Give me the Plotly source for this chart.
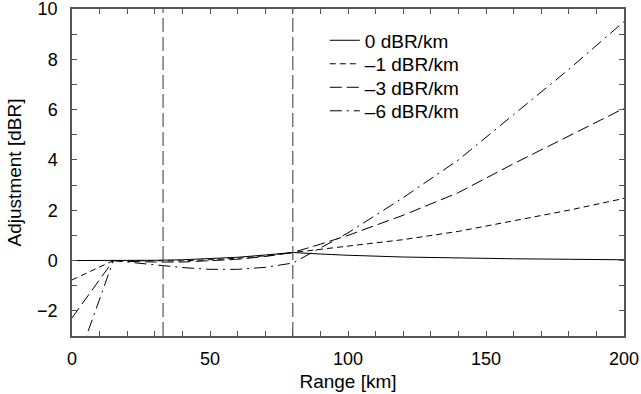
import plotly.graph_objects as go

# Range [km]
range_km = [0, 15, 20, 30, 40, 50, 60, 70, 80, 90, 100, 120, 140, 160, 180, 200]

# Adjustment [dBR] per range gradient
adj_0 = [0.0, 0.0, 0.0, 0.01, 0.03, 0.07, 0.13, 0.22, 0.32, 0.26, 0.21, 0.14, 0.09, 0.07, 0.05, 0.03]
adj_1 = [-0.77, 0.0, -0.01, -0.02, -0.01, 0.03, 0.09, 0.19, 0.32, 0.43, 0.55, 0.83, 1.16, 1.57, 2.0, 2.47]
adj_3 = [-2.28, 0.0, -0.03, -0.06, -0.06, -0.02, 0.05, 0.16, 0.32, 0.65, 1.0, 1.8, 2.7, 3.85, 4.95, 6.05]
adj_6 = [-4.6, 0.0, -0.06, -0.17, -0.28, -0.35, -0.35, -0.27, -0.1, 0.5, 1.1, 2.5, 4.0, 5.8, 7.6, 9.5]

series_names = ["0 dBR/km", "\u20131 dBR/km", "\u20133 dBR/km", "\u20136 dBR/km"]
series_vals = [adj_0, adj_1, adj_3, adj_6]
series_dash = ["solid", "6px,4px", "12px,5px", "12px,5px,2px,5px"]

# vertical reference ranges [km]
vlines_km = [33, 80]

fig = go.Figure()
legend_ids = ["legend", "legend2", "legend3", "legend4"]
for name, vals, dash, lid in zip(series_names, series_vals, series_dash, legend_ids):
    fig.add_trace(go.Scatter(x=range_km, y=vals, mode="lines", name=name, legend=lid,
                             line=dict(color="black", width=1, dash=dash)))

for xv in vlines_km:
    fig.add_shape(type="line", xref="x", yref="paper", x0=xv, x1=xv, y0=0, y1=1,
                  line=dict(color="#555555", width=1.2, dash="14px,5px"))

axis_common = dict(showline=True, linecolor="#555555", linewidth=1.5, mirror="ticks",
                   ticks="inside", ticklen=5, tickcolor="#555555", tickwidth=1,
                   showgrid=False, zeroline=False, automargin=False,
                   ticklabeloverflow="allow", tickfont=dict(size=18))

fig.update_xaxes(range=[0, 200], dtick=50, tick0=0, ticklabelstandoff=6,
                 minor=dict(dtick=10, ticks="inside", ticklen=5, tickcolor="#555555", showgrid=False),
                 title=dict(text="Range [km]", standoff=6, font=dict(size=19)), **axis_common)
fig.update_yaxes(range=[-3, 10], dtick=2, tick0=0, ticklabelstandoff=9,
                 minor=dict(dtick=1, ticks="inside", ticklen=5, tickcolor="#555555", showgrid=False),
                 title=dict(text="Adjustment [dBR]", standoff=10, font=dict(size=19)), **axis_common)

legend_style = dict(x=0.458, xanchor="left", yanchor="top",
                    bgcolor="rgba(0,0,0,0)", borderwidth=0, font=dict(size=19))
row_step = 23.5 / 327
layout_legends = {lid: dict(y=0.962 - i * row_step, **legend_style)
                  for i, lid in enumerate(legend_ids)}

fig.update_layout(
    width=641, height=394,
    margin=dict(l=72, r=17, t=9, b=58, autoexpand=False),
    paper_bgcolor="white", plot_bgcolor="white",
    font=dict(family="Liberation Sans, Arial, sans-serif", size=18, color="black"),
    showlegend=True,
    **layout_legends,
)

fig.write_html("out.html", config={"displayModeBar": False},
               post_script="document.body.style.margin='0';document.body.style.padding='0';")
